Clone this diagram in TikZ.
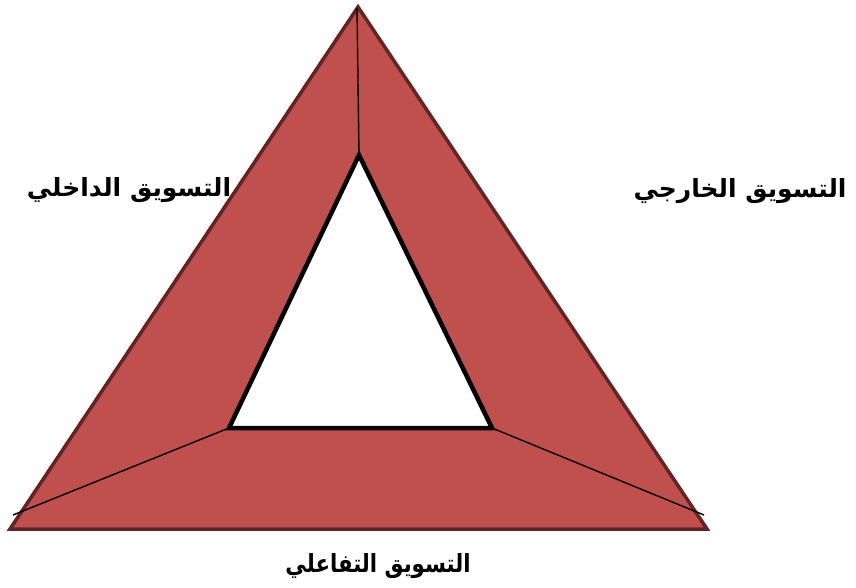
\documentclass[tikz,border=0pt]{standalone}
\usepackage{fontspec}
\newfontfamily\arabicfont[Script=Arabic]{DejaVu Sans}
\TeXXeTstate=1
\definecolor{fillred}{HTML}{C0504D}
\definecolor{edgered}{HTML}{632523}
\begin{document}
\begin{tikzpicture}[x=1pt,y=-1pt,
  lbl/.style={font=\arabicfont\bfseries\fontsize{25}{30}\selectfont, inner sep=0pt}]
\useasboundingbox (0,0) rectangle (856,587);
\coordinate (A) at (358,7);
\coordinate (B) at (10,529);
\coordinate (C) at (707,529);
\coordinate (a) at (359,155);
\coordinate (b) at (229,428);
\coordinate (c) at (492,428);
\coordinate (la) at (357,8);
\coordinate (lb) at (13,515);
\coordinate (lc) at (704,515);
\draw[edgered, fill=fillred, line width=3.5pt, line join=miter] (A) -- (B) -- (C) -- cycle;
\draw[black, line width=1.4pt] (la) -- (a);
\draw[black, line width=1.4pt] (lb) -- (b);
\draw[black, line width=1.4pt] (lc) -- (c);
\draw[black, fill=white, line width=4.5pt, line join=miter] (a) -- (b) -- (c) -- cycle;
\node[lbl] (t1) at (129,190) {\beginR التسويق الداخلي\endR};
\node[lbl] (t2) at (740,191) {\beginR التسويق الخارجي\endR};
\node[lbl, xscale=0.85] (t3) at (378,566) {\beginR التسويق التفاعلي\endR};
\end{tikzpicture}
\end{document}
